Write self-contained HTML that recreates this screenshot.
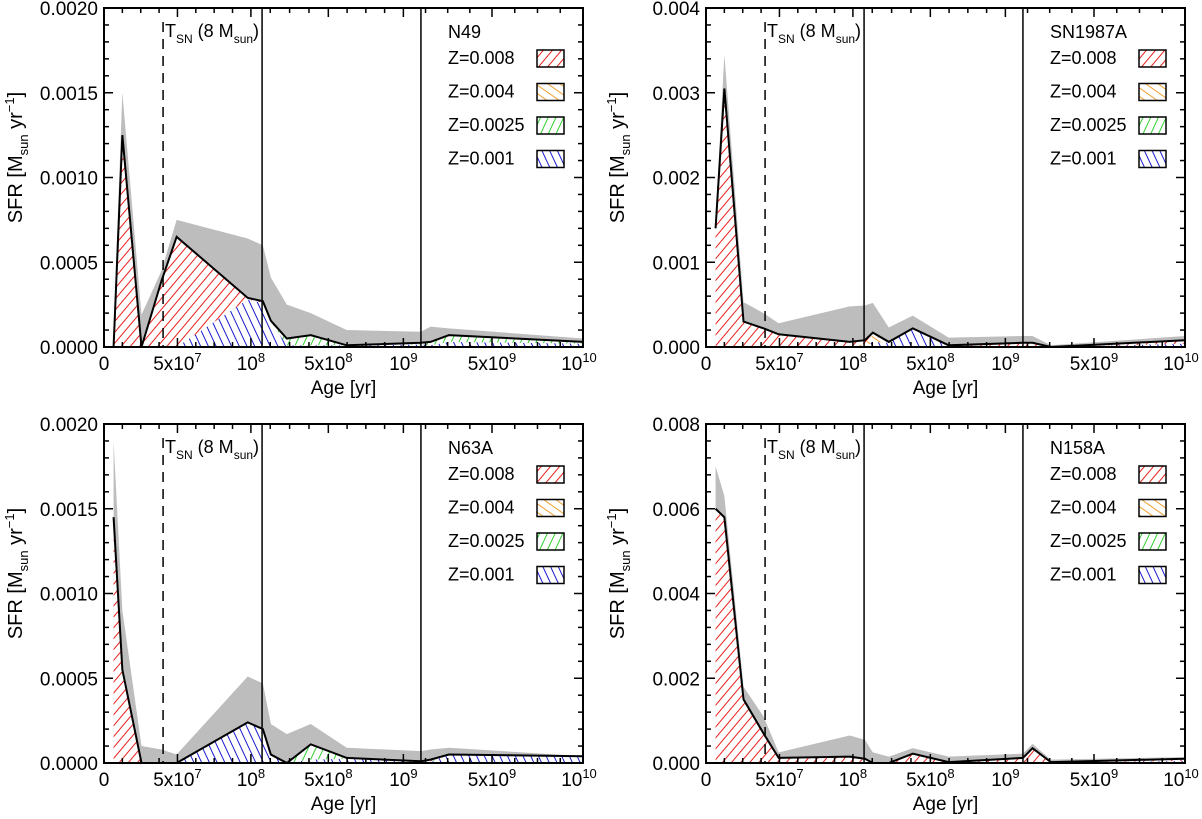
<!DOCTYPE html>
<html><head><meta charset="utf-8"><style>
body{margin:0;background:#fff}
svg text{font-family:"Liberation Sans",sans-serif;fill:#000}
</style></head><body>
<svg id="fig" xmlns="http://www.w3.org/2000/svg" width="1202" height="814" viewBox="0 0 1202 814">
<defs>
<pattern id="h-red" width="7" height="7" patternUnits="userSpaceOnUse" patternTransform="rotate(40)"><line x1="0" y1="0" x2="0" y2="7" stroke="#e8201e" stroke-width="2"/></pattern>
<pattern id="h-orange" width="7" height="7" patternUnits="userSpaceOnUse" patternTransform="rotate(-55)"><line x1="0" y1="0" x2="0" y2="7" stroke="#f0a030" stroke-width="2"/></pattern>
<pattern id="h-green" width="7" height="7" patternUnits="userSpaceOnUse" patternTransform="rotate(25)"><line x1="0" y1="0" x2="0" y2="7" stroke="#30d030" stroke-width="2"/></pattern>
<pattern id="h-blue" width="7" height="7" patternUnits="userSpaceOnUse" patternTransform="rotate(-25)"><line x1="0" y1="0" x2="0" y2="7" stroke="#1a1ad0" stroke-width="2"/></pattern>
</defs>
</svg>
<script>
// x positions in axis index units (0 .. 6 across plot width)
const ageIdx = [0.12,0.23,0.47,0.72,0.91,1.8,1.99,2.09,2.29,2.59,3.04,3.97,4.09,4.32,6.0];
const xTickLabels = [["0",""],["5x10","7"],["10","8"],["5x10","8"],["10","9"],["5x10","9"],["10","10"]];
const xTickIdx = [0,0.92,1.84,2.81,3.75,4.86,6.0];
const names = ["N49","SN1987A","N63A","N158A"];
const yMaxes = [0.0020,0.004,0.0020,0.008];
const yStep = [0.0005,0.001,0.0005,0.002];
const yDec = [4,3,4,3];
// values in units of 1e-4 Msun/yr
const red = [
 [0,12.5,0,3.9,6.5,0.1,0.1,0.05,0,0,0,0,0,0,0],
 [14,30.5,3.0,2.2,1.5,0.6,0.4,0.3,0,0,0.1,0.4,0.4,0,0.4],
 [14.5,5.5,0,0,0,0,0,0,0,0,0,0,0.1,0,0],
 [60,58,15,7,1.2,1.5,1.0,0,0,2.2,0.2,1.2,3.5,0.2,0.5]];
const orange = [
 [0,0,0,0,0,0,0,0,0,0,0,0,0,0,0],
 [0,0,0,0,0,0,0.4,0.8,0.1,0,0,0,0,0,0],
 [0,0,0,0,0,0,0,0,0,0,0,0,0,0,0],
 [0,0,0,0,0,0,0,0,0,0,0,0,0,0,0]];
const green = [
 [0,0,0,0,0,0,0,0,0.4,0.6,0,0.1,0.2,0.4,0.1],
 [0,0,0,0,0,0,0,0,0,0,0,0,0,0,0],
 [0,0,0,0,0,0,0,0,0,0.9,0.05,0,0.05,0,0],
 [0,0,0,0,0,0,0,0,0,0,0,0,0,0,0]];
const blue = [
 [0,0,0,0,0,2.8,2.6,1.5,0.1,0.1,0.1,0.15,0.1,0.3,0.2],
 [0,0,0,0,0,0,0,0.6,0.5,2.2,0.1,0.1,0.1,0,0.4],
 [0,0,0,0,0,2.4,2.0,0.5,0,0.2,0.25,0.1,0.05,0.5,0.4],
 [0,0,0,0,0,0,0,0,0,0,0,0,0,0,0.5]];
const grayUpper = [
 [1.0,15,1.9,4.5,7.5,6.4,6.0,4.1,2.5,2.0,1.0,0.9,1.2,1.1,0.5],
 [15,34.5,5.3,4.0,2.8,4.8,4.9,5.2,2.3,3.7,1.1,1.3,1.3,0.2,1.3],
 [19,9,1.0,0.8,0.5,5.1,4.7,2.3,1.7,2.3,0.9,0.7,0.8,0.9,0.4],
 [70,63,18,11,2.5,6.5,5.5,2.5,1.5,3.5,1.5,2.2,4.5,0.8,1.4]];
const vLines = [0.74,1.98,3.97];
const legendLabels = ["Z=0.008","Z=0.004","Z=0.0025","Z=0.001"];
const legendPats = ["h-red","h-orange","h-green","h-blue"];

const NS="http://www.w3.org/2000/svg";
const svg=document.getElementById('fig');
function mk(tag,attrs,parent){const e=document.createElementNS(NS,tag);for(const k in attrs)e.setAttribute(k,attrs[k]);(parent||svg).appendChild(e);return e;}
const origins=[[104,8],[706,8],[104,424],[706,424]];
const W=479,H=339;

origins.forEach((o,p)=>{
 const g=mk('g',{});
 
 
 const X=u=>o[0]+u/6*W;
 const Y=v=>o[1]+H-(v*1e-4)/yMaxes[p]*H;
 const poly=(top,bot)=>{let s=ageIdx.map((u,i)=>X(u)+','+Y(top[i]));for(let i=ageIdx.length-1;i>=0;i--)s.push(X(ageIdx[i])+','+Y(bot[i]));return s.join(' ');};
 const zero=ageIdx.map(()=>0);
 const gp=mk('polygon',{points:poly(grayUpper[p],zero),fill:'#bdbdbd'},g);
 
 
 const layers=[[blue[p],'h-blue','blue'],[green[p],'h-green','green'],[orange[p],'h-orange','orange'],[red[p],'h-red','red']];
 let base=zero.slice();
 layers.forEach(([arr,pat,nm])=>{
  const top=base.map((b,i)=>b+arr[i]);
  if(arr.some(v=>v>0)){
   mk('polygon',{points:poly(top,base),fill:'#fff'},g);
   const a=mk('polygon',{points:poly(top,base),fill:'url(#'+pat+')'},g);
   
   
  }
  base=top;
 });
 const tl=mk('polyline',{points:ageIdx.map((u,i)=>X(u)+','+Y(base[i])).join(' '),fill:'none',stroke:'#000','stroke-width':2},g);
 
 
 vLines.forEach((u,i)=>{
  const l=mk('line',{x1:X(u),x2:X(u),y1:i==0?o[1]+14:o[1],y2:o[1]+H,stroke:'#000','stroke-width':1.5,'stroke-dasharray':i==0?'10,7':'none'},g);
  
  
 });
 const fr=mk('rect',{x:o[0],y:o[1],width:W,height:H,fill:'none',stroke:'#000','stroke-width':2},g);
 
 
 // x ticks
 for(let k=0;k<xTickIdx.length;k++){
  for(let m=0;m<4;m++){
   if(k==xTickIdx.length-1&&m>0)break;
   const u=k<xTickIdx.length-1?xTickIdx[k]+(xTickIdx[k+1]-xTickIdx[k])*m/4:xTickIdx[k];
   const len=m==0?9:5;
   mk('line',{x1:X(u),x2:X(u),y1:o[1]+H,y2:o[1]+H-len,stroke:'#000','stroke-width':1.5},g);
   mk('line',{x1:X(u),x2:X(u),y1:o[1],y2:o[1]+len,stroke:'#000','stroke-width':1.5},g);
  }
 }
 xTickLabels.forEach((t,k)=>{
  const tx=mk('text',{x:X(xTickIdx[k])+(k==6?-4:0),y:o[1]+H+23,'font-size':19,'text-anchor':'middle'},g);
  
  
  tx.appendChild(document.createTextNode(t[0]));
  if(t[1]){const s=mk('tspan',{dy:-8,'font-size':13},tx);s.textContent=t[1];}
 });
 const nMaj=Math.round(yMaxes[p]/yStep[p]);
 for(let k=0;k<=nMaj*5;k++){const v=k/5*yStep[p]*1e4,len=k%5==0?9:5;
  mk('line',{x1:o[0],x2:o[0]+len,y1:Y(v),y2:Y(v),stroke:'#000','stroke-width':1.5},g);
  mk('line',{x1:o[0]+W,x2:o[0]+W-len,y1:Y(v),y2:Y(v),stroke:'#000','stroke-width':1.5},g);}
 for(let k=0;k<=nMaj;k++){
  const yl=mk('text',{x:o[0]-6,y:Y(k*yStep[p]*1e4)+7,'font-size':19,'text-anchor':'end'},g);
  
  
  yl.textContent=(k*yStep[p]).toFixed(yDec[p]);
 }
 const xt=mk('text',{x:o[0]+W/2,y:o[1]+H+47,'font-size':19,'text-anchor':'middle'},g);
 
 
 xt.textContent='Age [yr]';
 const yt=mk('text',{x:0,y:0,'font-size':20,'text-anchor':'middle',transform:`translate(${o[0]-82},${o[1]+H/2-20}) rotate(-90)`},g);
 
 
 yt.innerHTML='SFR [M<tspan dy="6" font-size="13">sun</tspan><tspan dy="-6"> yr</tspan><tspan dy="-8" font-size="13">−1</tspan><tspan dy="8">]</tspan>';
 const ts=mk('text',{x:o[0]+61,y:o[1]+29,'font-size':18},g);
 
 
 ts.innerHTML='T<tspan dy="6" font-size="12">SN</tspan><tspan dy="-6"> (8 M</tspan><tspan dy="6" font-size="12">sun</tspan><tspan dy="-6">)</tspan>';
 const nm=mk('text',{x:o[0]+344,y:o[1]+30,'font-size':18},g);
 
 
 nm.textContent=names[p];
 legendLabels.forEach((lab,i)=>{
  const cy=o[1]+50+i*33.5;
  const lt=mk('text',{x:o[0]+344,y:cy+6,'font-size':18},g);
  
  
  lt.textContent=lab;
  mk('rect',{x:o[0]+433,y:cy-8,width:27,height:17,fill:'#fff'},g);
  const sw=mk('rect',{x:o[0]+433,y:cy-8,width:27,height:17,fill:'url(#'+legendPats[i]+')',stroke:'#000','stroke-width':1.5},g);
  
  
 });
});
</script>
</body></html>
